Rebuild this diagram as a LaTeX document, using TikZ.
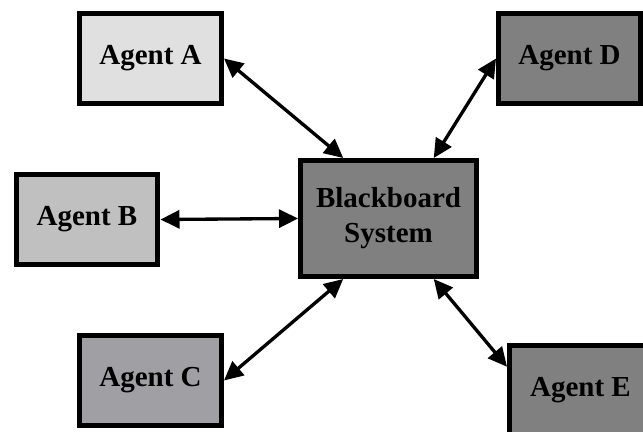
\documentclass[tikz,border=0pt]{standalone}
\usepackage{fontspec}
\setmainfont{Liberation Serif}
\usepackage{tikz}
\usetikzlibrary{arrows.meta,calc}

\definecolor{agentAfill}{HTML}{E0E0E0}
\definecolor{agentBfill}{HTML}{C0C0C0}
\definecolor{agentCfill}{HTML}{A0A0A4}
\definecolor{darkfill}{HTML}{808080}

\begin{document}
\begin{tikzpicture}[x=0.02cm,y=-0.02cm,
    >={Triangle[length=0.38cm,width=0.36cm]},
    agentbox/.style={draw=black, line width=2.85pt, minimum width=2.84cm, minimum height=1.8cm,
        inner sep=0pt, font=\fontsize{16.5}{20}\selectfont\bfseries, align=center},
    boardbox/.style={agentbox, fill=darkfill, minimum width=3.52cm, minimum height=2.32cm},
    link/.style={<->, line width=1.9pt}]

% --------------------------------------------------
% Canvas
% --------------------------------------------------
\clip (0,0) rectangle (643,432);

% --------------------------------------------------
% Blackboard in the middle
% --------------------------------------------------
\node[boardbox] (bb) at (388.5,218.5) {Blackboard\\System};

% --------------------------------------------------
% Agents around it
% --------------------------------------------------
\node[agentbox, fill=agentAfill] (agentA) at (150.5,58.5)  {Agent A};
\node[agentbox, fill=agentBfill] (agentB) at (87,219.5)    {Agent B};
\node[agentbox, fill=agentCfill] (agentC) at (150.5,380.5) {Agent C};
\node[agentbox, fill=darkfill]   (agentD) at (569.5,58.5)  {Agent D};
\node[agentbox, fill=darkfill]   (agentE) at (580.5,390.5) {Agent E};

% --------------------------------------------------
% Two-way links
% --------------------------------------------------
\draw[link] (agentA.east) -- ($(bb.north west)!0.25!(bb.north east)$);
\draw[link] (agentD.west) -- ($(bb.north west)!0.75!(bb.north east)$);
\draw[link] (agentB.east) -- (bb.west);
\draw[link] (agentC.east) -- ($(bb.south west)!0.25!(bb.south east)$);
\draw[link] ($(agentE.north west)!0.25!(agentE.south west)$) -- ($(bb.south west)!0.75!(bb.south east)$);

\end{tikzpicture}
\end{document}
